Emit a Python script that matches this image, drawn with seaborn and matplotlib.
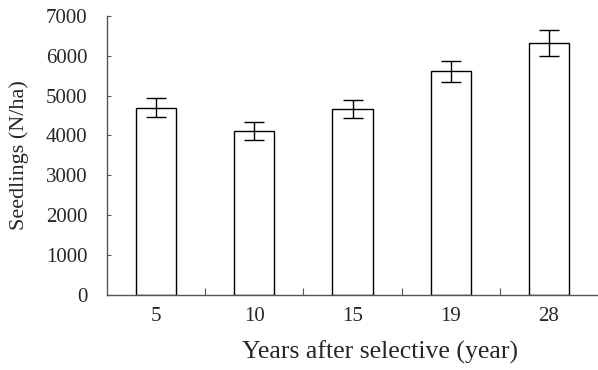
import matplotlib
matplotlib.use("Agg")
import matplotlib.pyplot as plt
import seaborn as sns
import pandas as pd
import numpy as np

years = ["5", "10", "15", "19", "28"]
seedlings = [4700, 4120, 4660, 5610, 6320]
errors = [230, 230, 225, 260, 335]

sns.set_theme(style="ticks")
plt.rcParams["font.family"] = ["Liberation Serif", "DejaVu Serif"]

fig = plt.figure(figsize=(5.98, 3.70), dpi=100)
ax = fig.add_axes([0.179, 0.203, 0.821, 0.754])

df = pd.DataFrame({"year": years, "seedlings": seedlings})
sns.barplot(data=df, x="year", y="seedlings", ax=ax, color="white",
            edgecolor="black", linewidth=1.0, width=0.41, saturation=1)
ax.errorbar(np.arange(len(years)), seedlings, yerr=errors, fmt="none",
            ecolor="black", elinewidth=1.0, capsize=7, capthick=1.0)

ax.set_xlim(-0.5, 4.5)
ax.set_ylim(0, 7000)
ax.set_yticks(range(0, 7001, 1000))
ax.tick_params(axis="y", direction="in", length=3, width=0.8, labelsize=15, pad=14, color="#555555")
ax.tick_params(axis="x", which="major", length=0, labelsize=15, pad=9)
ax.set_xticks([0.5, 1.5, 2.5, 3.5], minor=True)
ax.tick_params(axis="x", which="minor", direction="in", length=5, width=0.8, color="#555555")

for s in ["top", "right"]:
    ax.spines[s].set_visible(False)
for s in ["left", "bottom"]:
    ax.spines[s].set_linewidth(1.0)
    ax.spines[s].set_color("#555555")

ax.set_xlabel("Years after selective (year)", fontsize=18.5)
ax.xaxis.set_label_coords(0.556, -0.165)
ax.set_ylabel("Seedlings (N/ha)", fontsize=16, labelpad=12)

fig.savefig("out.png", dpi=100)
